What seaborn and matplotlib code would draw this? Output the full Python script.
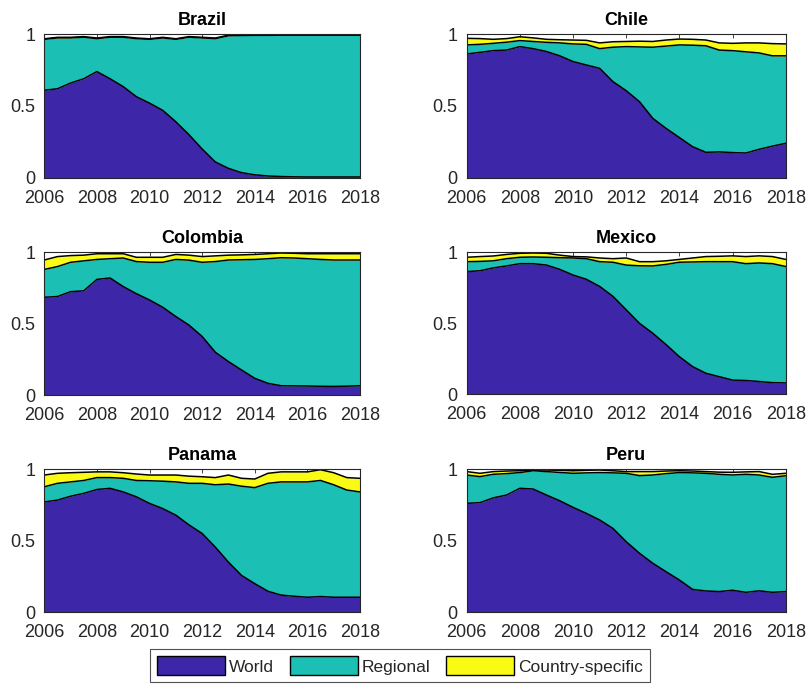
import numpy as np
import pandas as pd
import matplotlib
matplotlib.use("Agg")
import matplotlib.pyplot as plt
from matplotlib.patches import Patch
import seaborn as sns

# Half-yearly observation dates
years = [2006 + 0.5 * i for i in range(25)]

components = ["World", "Regional", "Country-specific"]
colors = ["#3e26a8", "#1bbfb3", "#f9fb15"]

# Variance shares by country: world, regional, country-specific
brazil_world = [0.61, 0.62, 0.66, 0.69, 0.74, 0.69, 0.635, 0.565, 0.52, 0.47, 0.39, 0.30, 0.20,
                0.11, 0.065, 0.035, 0.02, 0.012, 0.008, 0.006, 0.005, 0.005, 0.005, 0.005, 0.005]
brazil_regional = [0.355, 0.355, 0.315, 0.29, 0.23, 0.29, 0.345, 0.405, 0.445, 0.505, 0.575, 0.68, 0.775,
                   0.86, 0.925, 0.957, 0.973, 0.981, 0.986, 0.988, 0.989, 0.989, 0.989, 0.989, 0.989]
brazil_country = [0.004] * 25

chile_world = [0.863, 0.874, 0.886, 0.89, 0.914, 0.90, 0.88, 0.85, 0.81, 0.786, 0.763, 0.67, 0.607,
               0.53, 0.414, 0.344, 0.28, 0.216, 0.177, 0.18, 0.175, 0.172, 0.198, 0.22, 0.24]
chile_regional = [0.063, 0.056, 0.051, 0.055, 0.042, 0.05, 0.064, 0.09, 0.123, 0.144, 0.137, 0.24, 0.307,
                  0.382, 0.496, 0.574, 0.646, 0.708, 0.743, 0.71, 0.711, 0.706, 0.672, 0.63, 0.61]
chile_country = [0.046, 0.04, 0.028, 0.025, 0.027, 0.025, 0.021, 0.022, 0.027, 0.028, 0.04, 0.038, 0.036,
                 0.04, 0.04, 0.042, 0.041, 0.041, 0.04, 0.05, 0.051, 0.062, 0.07, 0.085, 0.083]

colombia_world = [0.685, 0.69, 0.724, 0.73, 0.81, 0.82, 0.76, 0.71, 0.666, 0.615, 0.55, 0.49, 0.41,
                  0.30, 0.234, 0.175, 0.117, 0.082, 0.065, 0.064, 0.063, 0.061, 0.06, 0.062, 0.065]
colombia_regional = [0.195, 0.21, 0.206, 0.21, 0.14, 0.135, 0.20, 0.225, 0.264, 0.315, 0.40, 0.455, 0.52,
                     0.635, 0.712, 0.773, 0.833, 0.873, 0.897, 0.896, 0.892, 0.889, 0.886, 0.884, 0.881]
colombia_country = [0.066, 0.07, 0.047, 0.04, 0.04, 0.035, 0.03, 0.03, 0.035, 0.035, 0.035, 0.035, 0.04,
                    0.04, 0.034, 0.034, 0.035, 0.035, 0.033, 0.033, 0.035, 0.04, 0.044, 0.044, 0.044]

mexico_world = [0.864, 0.87, 0.89, 0.904, 0.92, 0.92, 0.91, 0.88, 0.84, 0.81, 0.76, 0.69, 0.595,
                0.50, 0.43, 0.35, 0.265, 0.195, 0.148, 0.124, 0.10, 0.097, 0.09, 0.082, 0.08]
mexico_regional = [0.07, 0.066, 0.05, 0.051, 0.045, 0.047, 0.055, 0.082, 0.12, 0.145, 0.174, 0.24, 0.315,
                   0.405, 0.474, 0.565, 0.665, 0.737, 0.786, 0.81, 0.834, 0.823, 0.835, 0.838, 0.82]
mexico_country = [0.031, 0.034, 0.034, 0.03, 0.028, 0.028, 0.028, 0.018, 0.01, 0.013, 0.026, 0.025, 0.05,
                  0.029, 0.03, 0.025, 0.02, 0.028, 0.036, 0.038, 0.041, 0.05, 0.05, 0.05, 0.05]

panama_world = [0.77, 0.783, 0.81, 0.83, 0.857, 0.865, 0.84, 0.806, 0.76, 0.724, 0.678, 0.61, 0.55,
                0.455, 0.35, 0.257, 0.20, 0.147, 0.12, 0.112, 0.105, 0.11, 0.105, 0.105, 0.105]
panama_regional = [0.106, 0.117, 0.10, 0.09, 0.083, 0.075, 0.095, 0.114, 0.158, 0.191, 0.232, 0.29, 0.35,
                   0.435, 0.545, 0.623, 0.67, 0.753, 0.79, 0.798, 0.805, 0.81, 0.785, 0.748, 0.735]
panama_country = [0.082, 0.07, 0.064, 0.057, 0.04, 0.04, 0.039, 0.045, 0.04, 0.043, 0.048, 0.05, 0.046,
                  0.05, 0.063, 0.055, 0.06, 0.07, 0.07, 0.07, 0.07, 0.075, 0.084, 0.087, 0.095]

peru_world = [0.762, 0.767, 0.80, 0.82, 0.867, 0.862, 0.82, 0.78, 0.734, 0.692, 0.646, 0.587, 0.494,
              0.413, 0.343, 0.284, 0.226, 0.16, 0.149, 0.145, 0.154, 0.14, 0.15, 0.14, 0.145]
peru_regional = [0.198, 0.182, 0.165, 0.15, 0.11, 0.128, 0.164, 0.198, 0.238, 0.283, 0.331, 0.388, 0.478,
                 0.543, 0.617, 0.686, 0.751, 0.815, 0.823, 0.82, 0.806, 0.825, 0.81, 0.804, 0.81]
peru_country = [0.024, 0.023, 0.019, 0.018, 0.013, 0.005, 0.011, 0.015, 0.018, 0.018, 0.018, 0.015, 0.012,
                0.028, 0.024, 0.018, 0.013, 0.013, 0.012, 0.015, 0.019, 0.017, 0.024, 0.021, 0.017]

countries = ["Brazil", "Chile", "Colombia", "Mexico", "Panama", "Peru"]
shares = {
    "Brazil": (brazil_world, brazil_regional, brazil_country),
    "Chile": (chile_world, chile_regional, chile_country),
    "Colombia": (colombia_world, colombia_regional, colombia_country),
    "Mexico": (mexico_world, mexico_regional, mexico_country),
    "Panama": (panama_world, panama_regional, panama_country),
    "Peru": (peru_world, peru_regional, peru_country),
}

x_ticks = [2006, 2008, 2010, 2012, 2014, 2016, 2018]
y_ticks = [0, 0.5, 1]
y_ticklabels = ["0", "0.5", "1"]

sns.set_theme(style="white")
plt.rcParams["font.family"] = ["Liberation Sans", "DejaVu Sans"]

fig = plt.figure(figsize=(8.1, 6.84), dpi=100)
W, H = 810.0, 684.0

# panel boxes in pixels: left, top, right, bottom
boxes = {
    "Brazil": (44.3, 34.3, 360.0, 177.7),
    "Chile": (466.7, 34.3, 785.7, 177.7),
    "Colombia": (44.3, 252.3, 360.0, 395.0),
    "Mexico": (466.7, 252.3, 785.7, 394.3),
    "Panama": (44.3, 469.0, 360.0, 612.3),
    "Peru": (466.7, 469.3, 785.7, 612.3),
}

for name in countries:
    l, t, r, b = boxes[name]
    ax = fig.add_axes([l / W, 1 - b / H, (r - l) / W, (b - t) / H])
    data = np.array(shares[name], dtype=float)
    cum = np.cumsum(data, axis=0)
    lower = np.zeros(len(years))
    for k, comp in enumerate(components):
        ax.fill_between(years, lower, cum[k], color=colors[k], linewidth=0, zorder=1)
        lower = cum[k]
    frame = pd.DataFrame({"year": years})
    for k in range(len(components)):
        frame["level"] = cum[k]
        sns.lineplot(data=frame, x="year", y="level", color="black", linewidth=1.1,
                     ax=ax, legend=False, zorder=2)
    ax.set_xlim(2006, 2018)
    ax.set_ylim(0, 1)
    ax.set_xticks(x_ticks)
    ax.set_xticklabels([str(v) for v in x_ticks])
    ax.set_yticks(y_ticks)
    ax.set_yticklabels(y_ticklabels)
    ax.set_xlabel("")
    ax.set_ylabel("")
    ax.tick_params(axis="both", which="both", direction="in", length=3, width=0.6,
                   color="#262626", labelcolor="#262626", labelsize=13,
                   top=True, right=True, bottom=True, left=True)
    ax.tick_params(axis="x", pad=8.5)
    ax.tick_params(axis="y", pad=6.5)
    for sp in ax.spines.values():
        sp.set_visible(True)
        sp.set_color("#262626")
        sp.set_linewidth(0.8)
        sp.set_zorder(3)
    ax.set_title(name, fontsize=13, fontweight="bold", color="black", pad=6.5)

handles = [Patch(facecolor=c, edgecolor="black", linewidth=1.0) for c in colors]
leg = fig.legend(handles, components, loc="lower center", bbox_to_anchor=(0.494, 0.0),
                 ncol=3, frameon=True, fontsize=12.5, handlelength=3.9, handleheight=1.3,
                 handletextpad=0.25, columnspacing=0.9, borderpad=0.4, fancybox=False,
                 borderaxespad=0.1)
leg.get_frame().set_edgecolor("#262626")
leg.get_frame().set_linewidth(0.8)
for txt in leg.get_texts():
    txt.set_color("#262626")

fig.savefig("out.png", dpi=100, facecolor="white")
